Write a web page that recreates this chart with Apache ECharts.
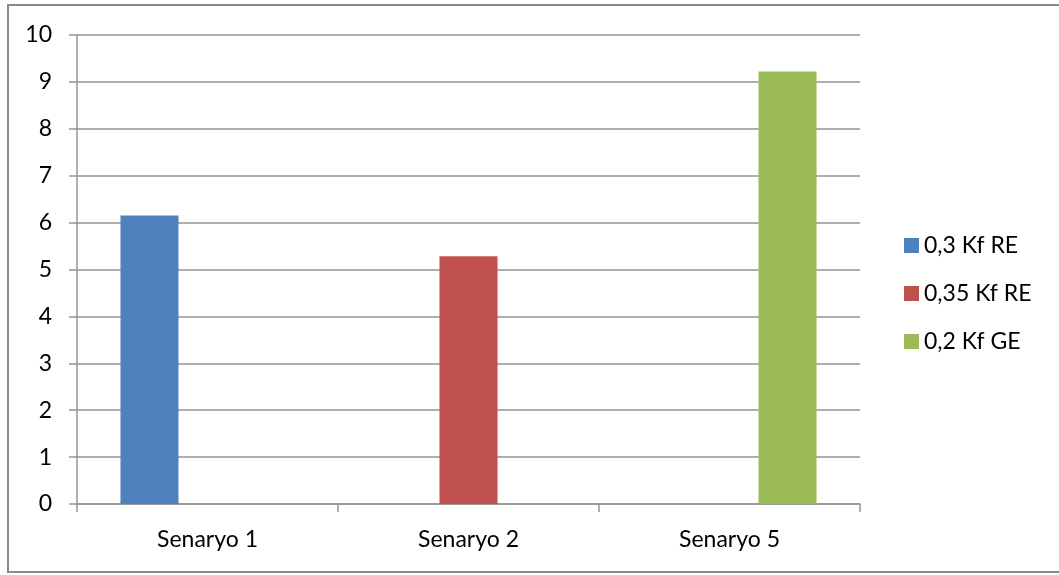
<!DOCTYPE html>
<html>
<head>
<meta charset="utf-8">
<script src="https://cdn.jsdelivr.net/npm/echarts@6/dist/echarts.min.js"></script>
<style>
  html, body { margin: 0; padding: 0; background: #fff; }
  #main { width: 1059px; height: 575px; }
</style>
</head>
<body>
<div id="main"></div>
<script>
// kategoriler
var categories = ['Senaryo 1', 'Senaryo 2', 'Senaryo 5'];
// seriler (her seri sadece bir kategoride deger aliyor)
var seriesNames = ['0,3 Kf RE', '0,35 Kf RE', '0,2 Kf GE'];
var kf03RE = [6.15, null, null];
var kf035RE = [null, 5.28, null];
var kf02GE = [null, null, 9.22];
var colors = ['#4f81bd', '#c0504d', '#9bbb59'];

var myChart = echarts.init(document.getElementById('main'));
var font = 'Lato, "Open Sans", sans-serif';
var gridColor = '#959595';

var option = {
  animation: false,
  textStyle: { fontFamily: font },
  graphic: [{
    type: 'rect',
    shape: { x: 8, y: 5, width: 1070, height: 567 },
    style: { fill: 'none', stroke: '#8a8a8a', lineWidth: 2 }
  }],
  grid: { left: 77, right: 199, top: 35, bottom: 71 },
  legend: {
    orient: 'vertical',
    left: 899,
    top: 229,
    itemWidth: 15,
    itemHeight: 15,
    itemGap: 25,
    icon: 'rect',
    textStyle: { fontSize: 23, color: '#000', fontFamily: font },
    data: seriesNames
  },
  xAxis: [{
    type: 'category',
    data: categories,
    axisLine: { lineStyle: { color: gridColor, width: 1.5 } },
    axisTick: { show: true, length: 8, lineStyle: { color: gridColor, width: 1.5 } },
    axisLabel: { fontSize: 23, color: '#000', margin: 24, fontFamily: font }
  }],
  yAxis: [{
    type: 'value',
    min: 0,
    max: 10,
    interval: 1,
    axisLine: { show: true, lineStyle: { color: gridColor, width: 1.5 } },
    axisTick: { show: true, length: 8, lineStyle: { color: gridColor, width: 1.5 } },
    splitLine: { lineStyle: { color: gridColor, width: 1.5 } },
    axisLabel: { fontSize: 23, color: '#000', margin: 25, fontFamily: font }
  }],
  series: [
    { name: seriesNames[0], type: 'bar', data: kf03RE, itemStyle: { color: colors[0] }, barGap: 0, barCategoryGap: '33.3%' },
    { name: seriesNames[1], type: 'bar', data: kf035RE, itemStyle: { color: colors[1] }, barGap: 0, barCategoryGap: '33.3%' },
    { name: seriesNames[2], type: 'bar', data: kf02GE, itemStyle: { color: colors[2] }, barGap: 0, barCategoryGap: '33.3%' }
  ]
};

myChart.setOption(option);
</script>
</body>
</html>
